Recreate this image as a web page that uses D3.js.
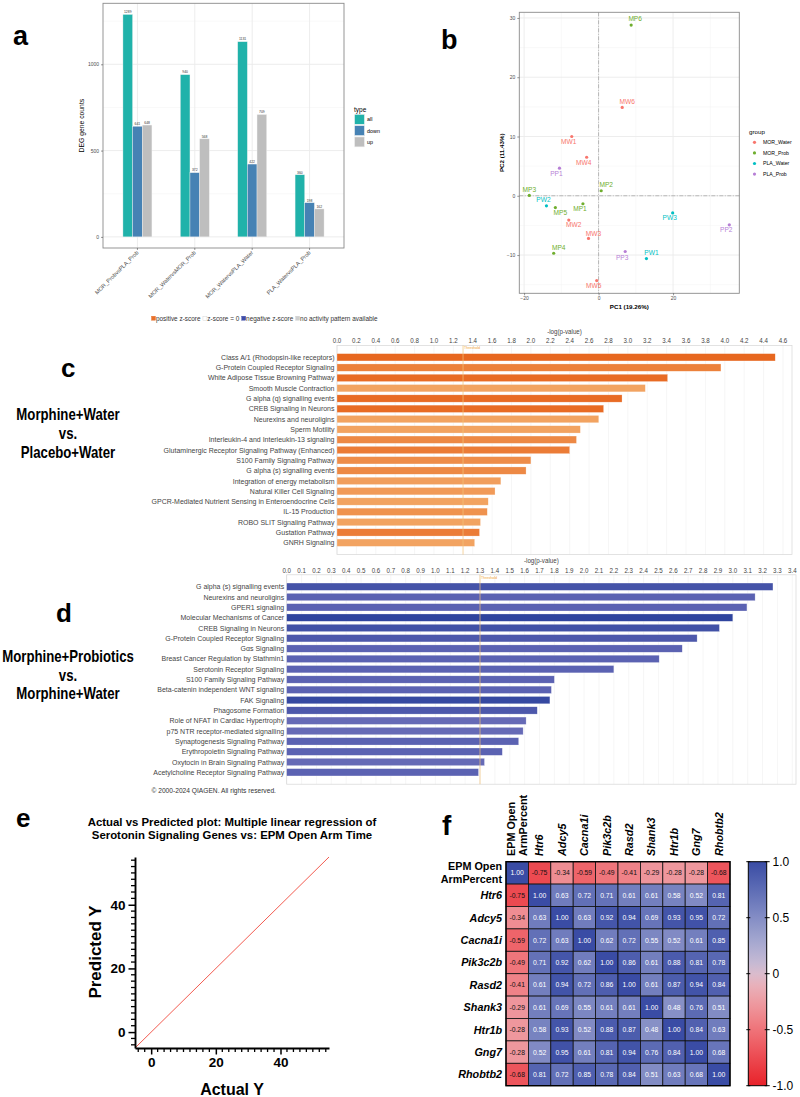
<!DOCTYPE html>
<html>
<head>
<meta charset="utf-8">
<script src="https://cdn.jsdelivr.net/npm/d3@7"></script>
<style>
  body { margin: 0; background: #fff; }
  svg { display: block; font-family: "Liberation Sans", Arial, sans-serif; }
</style>
</head>
<body>
<svg id="fig" width="800" height="1097"></svg>
<script>
// ---- data: panel a (DEG counts) ----
var degComparisons = ["MOR_ProbvsPLA_Prob", "MOR_WatervsMOR_Prob", "MOR_WatervsPLA_Water", "PLA_WatervsPLA_Prob"];
var degTypes = ["all", "down", "up"];
var degAll  = [1289, 940, 1131, 360];
var degDown = [641, 372, 422, 198];
var degUp   = [648, 568, 709, 162];
var degTicks = [0, 500, 1000];

// ---- data: panel b (PCA) ----
var pcaGroupNames = ["MOR_Water", "MOR_Prob", "PLA_Water", "PLA_Prob"];
var pcaSamples = ["MW1", "MW2", "MW3", "MW4", "MW5", "MW6", "MP1", "MP2", "MP3", "MP4", "MP5", "MP6", "PW1", "PW2", "PW3", "PP1", "PP2", "PP3"];
var pcaGroup = ["MOR_Water", "MOR_Water", "MOR_Water", "MOR_Water", "MOR_Water", "MOR_Water",
                "MOR_Prob", "MOR_Prob", "MOR_Prob", "MOR_Prob", "MOR_Prob", "MOR_Prob",
                "PLA_Water", "PLA_Water", "PLA_Water", "PLA_Prob", "PLA_Prob", "PLA_Prob"];
var pc1 = [-7.2, -8.0, -2.7, -3.2, -0.5, 6.35, -4.2, 0.7, -18.6, -12.05, -11.6, 8.75, 12.85, -14.0, 19.9, -10.5, 35.1, 7.15];
var pc2 = [10.0, -4.1, -7.2, 6.5, -14.3, 14.9, -1.35, 0.85, 0.05, -9.7, -2.0, 28.8, -10.6, -1.7, -2.9, 4.65, -4.9, -9.4];
var pc1Ticks = [-20, 0, 20];
var pc2Ticks = [-10, 0, 10, 20, 30];

// ---- data: panels c, d (IPA canonical pathways) ----
var ipaThreshold = 1.3;
var pathwaysC = ["Class A/1 (Rhodopsin-like receptors)", "G-Protein Coupled Receptor Signaling",
  "White Adipose Tissue Browning Pathway", "Smooth Muscle Contraction", "G alpha (q) signalling events",
  "CREB Signaling in Neurons", "Neurexins and neuroligins", "Sperm Motility",
  "Interleukin-4 and Interleukin-13 signaling", "Glutaminergic Receptor Signaling Pathway (Enhanced)",
  "S100 Family Signaling Pathway", "G alpha (s) signalling events", "Integration of energy metabolism",
  "Natural Killer Cell Signaling", "GPCR-Mediated Nutrient Sensing in Enteroendocrine Cells",
  "IL-15 Production", "ROBO SLIT Signaling Pathway", "Gustation Pathway", "GNRH Signaling"];
var logpC = [4.52, 3.96, 3.41, 3.18, 2.94, 2.75, 2.70, 2.51, 2.47, 2.40, 2.00, 1.95, 1.69, 1.63, 1.56, 1.55, 1.48, 1.47, 1.42];
var zScoreC = [3.0, 2.4, 2.9, 1.6, 2.9, 2.9, 1.6, 1.6, 2.2, 2.5, 2.1, 2.2, 1.7, 1.8, 1.6, 2.0, 1.6, 2.5, 1.6];

var pathwaysD = ["G alpha (s) signalling events", "Neurexins and neuroligins", "GPER1 signaling",
  "Molecular Mechanisms of Cancer", "CREB Signaling in Neurons", "G-Protein Coupled Receptor Signaling",
  "G\u03b1s Signaling", "Breast Cancer Regulation by Stathmin1", "Serotonin Receptor Signaling",
  "S100 Family Signaling Pathway", "Beta-catenin independent WNT signaling", "FAK Signaling",
  "Phagosome Formation", "Role of NFAT in Cardiac Hypertrophy", "p75 NTR receptor-mediated signalling",
  "Synaptogenesis Signaling Pathway", "Erythropoietin Signaling Pathway",
  "Oxytocin in Brain Signaling Pathway", "Acetylcholine Receptor Signaling Pathway"];
var logpD = [3.27, 3.15, 3.095, 3.00, 2.91, 2.76, 2.66, 2.505, 2.20, 1.80, 1.78, 1.77, 1.685, 1.61, 1.59, 1.56, 1.45, 1.33, 1.29];
var zScoreD = [-2.6, -2.0, -2.0, -3.2, -2.7, -2.4, -2.0, -2.0, -2.0, -2.0, -2.0, -3.0, -2.4, -1.7, -1.7, -2.0, -2.0, -1.7, -2.0];

// ---- data: panel e (actual vs predicted) ----
var regActual = [-5, 55];
var regPredicted = [-5, 55];
var regTicks = [0, 20, 40];
var regMinorTicks = [-4, -2, 2, 4, 6, 8, 10, 12, 14, 16, 18, 22, 24, 26, 28, 30, 32, 34, 36, 38,
                     42, 44, 46, 48, 50, 52, 54];

// ---- data: panel f (correlation matrix) ----
var heatVars = ["EPM Open ArmPercent", "Htr6", "Adcy5", "Cacna1i", "Pik3c2b", "Rasd2", "Shank3", "Htr1b", "Gng7", "Rhobtb2"];
var corrMatrix = [
  [ 1.00, -0.75, -0.34, -0.59, -0.49, -0.41, -0.29, -0.28, -0.28, -0.68],
  [-0.75,  1.00,  0.63,  0.72,  0.71,  0.61,  0.61,  0.58,  0.52,  0.81],
  [-0.34,  0.63,  1.00,  0.63,  0.92,  0.94,  0.69,  0.93,  0.95,  0.72],
  [-0.59,  0.72,  0.63,  1.00,  0.62,  0.72,  0.55,  0.52,  0.61,  0.85],
  [-0.49,  0.71,  0.92,  0.62,  1.00,  0.86,  0.61,  0.88,  0.81,  0.78],
  [-0.41,  0.61,  0.94,  0.72,  0.86,  1.00,  0.61,  0.87,  0.94,  0.84],
  [-0.29,  0.61,  0.69,  0.55,  0.61,  0.61,  1.00,  0.48,  0.76,  0.51],
  [-0.28,  0.58,  0.93,  0.52,  0.88,  0.87,  0.48,  1.00,  0.84,  0.63],
  [-0.28,  0.52,  0.95,  0.61,  0.81,  0.94,  0.76,  0.84,  1.00,  0.68],
  [-0.68,  0.81,  0.72,  0.85,  0.78,  0.84,  0.51,  0.63,  0.68,  1.00]
];
var colorbarTicks = [1, 0.5, 0, -0.5, -1];

var svg = d3.select("#fig");

// condensed text, like the IPA export font
function narrow(parent, x, y, txt, size, anchor, sx) {
  return parent.append("text")
    .attr("transform", "translate(" + x + "," + y + ") scale(" + (sx || 0.85) + ",1)")
    .attr("text-anchor", anchor || "start")
    .attr("font-size", size)
    .text(txt);
}

function panelLetter(x, y, s, size) {
  svg.append("text").attr("x", x).attr("y", y).attr("font-size", size || 26)
    .attr("font-weight", "bold").text(s);
}

/*** panel a : DEG bar chart ***/
(function () {
  var box = {left: 103, right: 344, top: 3.3, bottom: 248};
  var g = svg.append("g");
  var maxV = d3.max(degAll);
  var y = d3.scaleLinear().domain([-0.05 * maxV, 1.05 * maxV]).range([box.bottom, box.top]);
  var x = d3.scalePoint().domain(degComparisons).range([box.left, box.right]).padding(0.6);
  var sub = d3.scaleBand().domain(degTypes).range([-14.5, 14.5]);
  var color = d3.scaleOrdinal().domain(degTypes).range(["#20B2AA", "#4682B4", "#BEBEBE"]);

  // grid
  [250, 750, 1250].forEach(function (v) {
    g.append("line").attr("x1", box.left).attr("x2", box.right).attr("y1", y(v)).attr("y2", y(v))
      .attr("stroke", "#F3F3F3").attr("stroke-width", 0.5);
  });
  degTicks.forEach(function (v) {
    g.append("line").attr("x1", box.left).attr("x2", box.right).attr("y1", y(v)).attr("y2", y(v))
      .attr("stroke", "#EBEBEB").attr("stroke-width", 0.9);
  });
  degComparisons.forEach(function (c) {
    g.append("line").attr("x1", x(c)).attr("x2", x(c)).attr("y1", box.top).attr("y2", box.bottom)
      .attr("stroke", "#EBEBEB").attr("stroke-width", 0.9);
  });

  var rows = [];
  degComparisons.forEach(function (c, i) {
    rows.push({cmp: c, type: "all", v: degAll[i]});
    rows.push({cmp: c, type: "down", v: degDown[i]});
    rows.push({cmp: c, type: "up", v: degUp[i]});
  });
  g.selectAll("rect.bar").data(rows).enter().append("rect")
    .attr("x", function (d) { return x(d.cmp) + sub(d.type); })
    .attr("width", sub.bandwidth())
    .attr("y", function (d) { return y(d.v); })
    .attr("height", function (d) { return y(0) - y(d.v); })
    .attr("fill", function (d) { return color(d.type); })
    .attr("stroke", "#F2F2F2").attr("stroke-width", 0.4);
  g.selectAll("text.val").data(rows).enter().append("text")
    .attr("x", function (d) { return x(d.cmp) + sub(d.type) + sub.bandwidth() / 2; })
    .attr("y", function (d) { return y(d.v) - 1.2; })
    .attr("text-anchor", "middle").attr("font-size", 3.4).attr("fill", "#333")
    .text(function (d) { return d.v; });

  g.append("rect").attr("x", box.left).attr("y", box.top)
    .attr("width", box.right - box.left).attr("height", box.bottom - box.top)
    .attr("fill", "none").attr("stroke", "#8A8A8A").attr("stroke-width", 0.9);

  var ya = g.append("g").attr("transform", "translate(" + box.left + ",0)")
    .call(d3.axisLeft(y).tickValues(degTicks).tickFormat(d3.format("d")).tickSize(2).tickPadding(2));
  ya.select(".domain").remove();
  ya.selectAll("line").attr("stroke", "#333").attr("stroke-width", 0.5);
  ya.selectAll("text").attr("font-size", 5).attr("fill", "#4D4D4D").attr("font-family", null);

  degComparisons.forEach(function (c) {
    g.append("line").attr("x1", x(c)).attr("x2", x(c)).attr("y1", box.bottom).attr("y2", box.bottom + 2)
      .attr("stroke", "#333").attr("stroke-width", 0.5);
    g.append("text").attr("transform", "translate(" + (x(c) + 1.5) + "," + (box.bottom + 5) + ") rotate(-45)")
      .attr("text-anchor", "end").attr("font-size", 5.6).attr("fill", "#4D4D4D").text(c);
  });

  g.append("text").attr("transform", "translate(84," + ((box.top + box.bottom) / 2) + ") rotate(-90)")
    .attr("text-anchor", "middle").attr("font-size", 6.8).text("DEG gene counts");

  // legend
  g.append("text").attr("x", 354).attr("y", 111.5).attr("font-size", 6.5).text("type");
  degTypes.forEach(function (t, i) {
    var cy = 119.3 + i * 11.3;
    g.append("rect").attr("x", 354.5).attr("y", cy - 5).attr("width", 10).attr("height", 10)
      .attr("fill", color(t)).attr("stroke", "#F2F2F2").attr("stroke-width", 0.6);
    g.append("text").attr("x", 367).attr("y", cy + 2).attr("font-size", 5.4).text(t);
  });
  panelLetter(13, 45, "a", 27);
})();

/*** panel b : PCA ***/
(function () {
  var box = {left: 519.3, right: 739.3, top: 12.3, bottom: 293.3};
  var g = svg.append("g");
  var ex = d3.extent(pc1), ey = d3.extent(pc2);
  var px = (ex[1] - ex[0]) * 0.05, py = (ey[1] - ey[0]) * 0.05;
  var x = d3.scaleLinear().domain([ex[0] - px, ex[1] + px]).range([box.left, box.right]);
  var y = d3.scaleLinear().domain([ey[0] - py, ey[1] + py]).range([box.bottom, box.top]);
  var color = d3.scaleOrdinal().domain(pcaGroupNames).range(["#F8766D", "#6FAE2E", "#00BFC4", "#B77FD6"]);
  // label nudges (px) so text sits beside its point as in the original
  var nudge = [[-3, 5], [5, 5], [5, -5], [-3, 5], [-3, 5], [5, -6], [-3, 5], [5, -6], [0, -6],
               [5, -6], [5, 5], [4, -6], [5, -6], [-3, -6], [-3, 5], [-3, 5], [-3, 5], [-3, 6]];

  [-10, 10, 30].forEach(function (v) {
    g.append("line").attr("x1", x(v)).attr("x2", x(v)).attr("y1", box.top).attr("y2", box.bottom)
      .attr("stroke", "#F3F3F3").attr("stroke-width", 0.5);
  });
  [-15, -5, 5, 15, 25].forEach(function (v) {
    g.append("line").attr("x1", box.left).attr("x2", box.right).attr("y1", y(v)).attr("y2", y(v))
      .attr("stroke", "#F3F3F3").attr("stroke-width", 0.5);
  });
  pc1Ticks.forEach(function (v) {
    g.append("line").attr("x1", x(v)).attr("x2", x(v)).attr("y1", box.top).attr("y2", box.bottom)
      .attr("stroke", "#EBEBEB").attr("stroke-width", 0.9);
  });
  pc2Ticks.forEach(function (v) {
    g.append("line").attr("x1", box.left).attr("x2", box.right).attr("y1", y(v)).attr("y2", y(v))
      .attr("stroke", "#EBEBEB").attr("stroke-width", 0.9);
  });
  g.append("line").attr("x1", x(0)).attr("x2", x(0)).attr("y1", box.top).attr("y2", box.bottom)
    .attr("stroke", "#A8A8A8").attr("stroke-width", 0.8).attr("stroke-dasharray", "4,1.5,1,1.5");
  g.append("line").attr("x1", box.left).attr("x2", box.right).attr("y1", y(0)).attr("y2", y(0))
    .attr("stroke", "#A8A8A8").attr("stroke-width", 0.8).attr("stroke-dasharray", "4,1.5,1,1.5");

  pcaSamples.forEach(function (s, i) {
    var c = color(pcaGroup[i]);
    g.append("circle").attr("cx", x(pc1[i])).attr("cy", y(pc2[i])).attr("r", 1.6).attr("fill", c);
    g.append("text").attr("x", x(pc1[i]) + nudge[i][0]).attr("y", y(pc2[i]) + nudge[i][1])
      .attr("dy", "0.35em").attr("text-anchor", "middle").attr("font-size", 6.6)
      .attr("fill", c).text(s);
  });

  g.append("rect").attr("x", box.left).attr("y", box.top)
    .attr("width", box.right - box.left).attr("height", box.bottom - box.top)
    .attr("fill", "none").attr("stroke", "#8A8A8A").attr("stroke-width", 0.9);

  var xa = g.append("g").attr("transform", "translate(0," + box.bottom + ")")
    .call(d3.axisBottom(x).tickValues(pc1Ticks).tickSize(2).tickPadding(1.5));
  var ya = g.append("g").attr("transform", "translate(" + box.left + ",0)")
    .call(d3.axisLeft(y).tickValues(pc2Ticks).tickSize(2).tickPadding(2));
  [xa, ya].forEach(function (a) {
    a.select(".domain").remove();
    a.selectAll("line").attr("stroke", "#333").attr("stroke-width", 0.5);
    a.selectAll("text").attr("font-size", 5).attr("fill", "#4D4D4D").attr("font-family", null)
      .text(function (d) { return d < 0 ? "\u2212" + Math.abs(d) : d; });
  });

  g.append("text").attr("x", (box.left + box.right) / 2).attr("y", 308.5)
    .attr("text-anchor", "middle").attr("font-size", 6.2).attr("font-weight", "bold").text("PC1 (19.26%)");
  g.append("text").attr("transform", "translate(504," + ((box.top + box.bottom) / 2) + ") rotate(-90)")
    .attr("text-anchor", "middle").attr("font-size", 6.2).attr("font-weight", "bold").text("PC2 (11.43%)");

  g.append("text").attr("x", 749).attr("y", 133.5).attr("font-size", 6.2).text("group");
  pcaGroupNames.forEach(function (n, i) {
    var cy = 142.3 + i * 10.6;
    g.append("circle").attr("cx", 754.5).attr("cy", cy).attr("r", 1.6).attr("fill", color(n));
    g.append("text").attr("x", 763).attr("y", cy + 1.9).attr("font-size", 5.2).text(n);
  });
  panelLetter(441, 49, "b", 27);
})();

/*** z-score legend line ***/
(function () {
  var items = [
    {label: "positive z-score", fill: "#E8702A", stroke: "#E8702A"},
    {label: "z-score = 0", fill: "#FFFFFF", stroke: "#CCCCCC"},
    {label: "negative z-score", fill: "#3F4DA8", stroke: "#3F4DA8"},
    {label: "no activity pattern available", fill: "#CFCFCF", stroke: "#CFCFCF"}
  ];
  var g = svg.append("g");
  var cx = 151.5;
  items.forEach(function (it) {
    g.append("rect").attr("x", cx).attr("y", 316.2).attr("width", 4).attr("height", 4)
      .attr("fill", it.fill).attr("stroke", it.stroke).attr("stroke-width", 0.4);
    var t = narrow(g, cx + 4.4, 320.8, it.label, 7.4, "start", 0.87).attr("fill", "#333");
    cx += 4.4 + t.node().getComputedTextLength() * 0.87 + 2.4;
  });
})();

/*** panels c, d : IPA bar charts ***/
function drawIPA(cfg) {
  var g = svg.append("g");
  var x = d3.scaleLinear().domain([0, cfg.xMax]).range([cfg.left, cfg.right]);
  var y = d3.scaleBand().domain(cfg.labels).range([cfg.top, cfg.bottom]).paddingInner(0.29).paddingOuter(0.8);
  var shade = d3.scaleLinear().domain(cfg.zDomain).range(cfg.colors).clamp(true);
  var ticks = d3.range(0, cfg.tickMax + 1e-9, cfg.tickStep);

  ticks.forEach(function (t) {
    g.append("line").attr("x1", x(t)).attr("x2", x(t)).attr("y1", cfg.top).attr("y2", cfg.bottom)
      .attr("stroke", "#EDEDED").attr("stroke-width", 0.5);
  });
  g.append("rect").attr("x", cfg.left).attr("y", cfg.top)
    .attr("width", cfg.right - cfg.left).attr("height", cfg.bottom - cfg.top)
    .attr("fill", "none").attr("stroke", "#D6D6D6").attr("stroke-width", 0.7);

  g.selectAll("rect.bar").data(cfg.labels).enter().append("rect")
    .attr("x", x(0))
    .attr("y", function (d) { return y(d); })
    .attr("width", function (d, i) { return x(cfg.values[i]) - x(0); })
    .attr("height", y.bandwidth())
    .attr("fill", function (d, i) { return shade(Math.abs(cfg.z[i])); })
    .attr("stroke", "#FFFFFF").attr("stroke-opacity", 0.5).attr("stroke-width", 0.5);

  g.append("line").attr("x1", x(ipaThreshold)).attr("x2", x(ipaThreshold))
    .attr("y1", cfg.top).attr("y2", cfg.bottom)
    .attr("stroke", "#F2C27A").attr("stroke-width", 0.7);
  g.append("text").attr("x", x(ipaThreshold) + 1).attr("y", cfg.top + 4)
    .attr("font-size", 3.6).attr("fill", "#F0A030").text("Threshold");

  cfg.labels.forEach(function (l) {
    narrow(g, cfg.left - 2.5, y(l) + y.bandwidth() / 2 + 2.6, l, 7.6, "end", 0.92).attr("fill", "#444");
  });
  ticks.forEach(function (t) {
    narrow(g, x(t), cfg.tickY, t.toFixed(1), 7.2, "middle", 0.86).attr("fill", "#444");
  });
  narrow(g, (cfg.left + cfg.right) / 2, cfg.titleY, "-log(p-value)", 7.2, "middle", 0.86).attr("fill", "#444");

  // side heading
  panelLetter(cfg.letterX, cfg.letterY, cfg.letter, 26);
  cfg.heading.forEach(function (h, i) {
    narrow(svg, 68, cfg.headingY[i], h, 16.5, "middle", 0.8).attr("font-weight", "bold");
  });
}

drawIPA({
  labels: pathwaysC, values: logpC, z: zScoreC,
  zDomain: [1.5, 3.0], colors: ["#F3A766", "#E7671F"],
  left: 337, right: 792, top: 345.4, bottom: 554.6,
  xMax: 4.693, tickMax: 4.6, tickStep: 0.2, tickY: 343.3, titleY: 333.5,
  letter: "c", letterX: 61, letterY: 377,
  heading: ["Morphine+Water", "vs.", "Placebo+Water"], headingY: [420, 439, 458]
});
drawIPA({
  labels: pathwaysD, values: logpD, z: zScoreD,
  zDomain: [1.6, 3.2], colors: ["#6A6CB8", "#2F449E"],
  left: 286.7, right: 796, top: 574.8, bottom: 784.2,
  xMax: 3.425, tickMax: 3.4, tickStep: 0.1, tickY: 572.6, titleY: 562.5,
  letter: "d", letterX: 56, letterY: 622,
  heading: ["Morphine+Probiotics", "vs.", "Morphine+Water"], headingY: [662, 681, 699]
});
narrow(svg, 151.5, 792.5, "\u00a9 2000-2024 QIAGEN. All rights reserved.", 7.4, "start", 0.9).attr("fill", "#333");

/*** panel e : actual vs predicted ***/
(function () {
  var g = svg.append("g");
  var x = d3.scaleLinear().domain([-5, 55]).range([135, 329]);
  var y = d3.scaleLinear().domain([-5, 55]).range([1048, 857]);

  var line = d3.line().x(function (d) { return x(d[0]); }).y(function (d) { return y(d[1]); });
  g.append("path").datum(d3.zip(regActual, regPredicted)).attr("d", line)
    .attr("fill", "none").attr("stroke", "#F0483C").attr("stroke-width", 0.9);

  // minor ticks
  g.selectAll("line.mx").data(regMinorTicks).enter().append("line")
    .attr("x1", function (d) { return x(d); }).attr("x2", function (d) { return x(d); })
    .attr("y1", 1048).attr("y2", 1052)
    .attr("stroke", "#000").attr("stroke-width", 1.3);
  g.selectAll("line.my").data(regMinorTicks).enter().append("line")
    .attr("y1", function (d) { return y(d); }).attr("y2", function (d) { return y(d); })
    .attr("x1", 131).attr("x2", 135)
    .attr("stroke", "#000").attr("stroke-width", 1.3);

  function styleAxis(a) {
    a.select(".domain").attr("stroke", "#000").attr("stroke-width", 1.9);
    a.selectAll(".tick line").attr("stroke", "#000").attr("stroke-width", 1.5);
    a.selectAll("text").attr("font-size", 13.5).attr("font-weight", "bold")
      .attr("fill", "#000").attr("font-family", null);
  }
  styleAxis(g.append("g").attr("transform", "translate(0,1048)")
    .call(d3.axisBottom(x).tickValues(regTicks).tickSize(6.5).tickSizeOuter(0).tickPadding(3)));
  styleAxis(g.append("g").attr("transform", "translate(135,0)")
    .call(d3.axisLeft(y).tickValues(regTicks).tickSize(6.5).tickSizeOuter(0).tickPadding(3)));

  g.append("text").attr("x", 232).attr("y", 1094.5).attr("text-anchor", "middle")
    .attr("font-size", 16).attr("font-weight", "bold").text("Actual Y");
  g.append("text").attr("transform", "translate(101,952) rotate(-90)").attr("text-anchor", "middle")
    .attr("font-size", 17).attr("font-weight", "bold").text("Predicted Y");

  g.append("text").attr("x", 232).attr("y", 825.5).attr("text-anchor", "middle")
    .attr("font-size", 11.4).attr("font-weight", "bold")
    .text("Actual vs Predicted plot: Multiple linear regression of");
  g.append("text").attr("x", 232).attr("y", 838.5).attr("text-anchor", "middle")
    .attr("font-size", 11.4).attr("font-weight", "bold")
    .text("Serotonin Signaling Genes vs: EPM Open Arm Time");
  panelLetter(16, 827, "e", 26);
})();

/*** panel f : correlation heatmap ***/
(function () {
  var g = svg.append("g");
  var x = d3.scaleBand().domain(heatVars).range([506, 730]);
  var y = d3.scaleBand().domain(heatVars).range([861.7, 1085.7]);
  var heat = d3.scaleDivergingPow().exponent(0.7).domain([-1, 0, 1])
    .interpolator(d3.interpolateRgbBasis(["#E8222A", "#FFFFFF", "#3A4CA5"]));

  function lines(v) {
    var k = v.lastIndexOf(" ");
    return k < 0 ? [v] : [v.slice(0, k), v.slice(k + 1)];
  }

  heatVars.forEach(function (rv, i) {
    heatVars.forEach(function (cv, j) {
      var v = corrMatrix[i][j];
      g.append("rect").attr("x", x(cv)).attr("y", y(rv))
        .attr("width", x.bandwidth()).attr("height", y.bandwidth())
        .attr("fill", heat(v)).attr("stroke", "#111").attr("stroke-width", 0.8);
      g.append("text").attr("x", x(cv) + x.bandwidth() / 2).attr("y", y(rv) + y.bandwidth() / 2 + 2.4)
        .attr("text-anchor", "middle").attr("font-size", 6.8)
        .attr("fill", v > 0 ? "#FFFFFF" : "#111").text(v.toFixed(2));
    });
  });
  g.append("rect").attr("x", 506).attr("y", 861.7).attr("width", 224).attr("height", 224)
    .attr("fill", "none").attr("stroke", "#000").attr("stroke-width", 1.4);

  heatVars.forEach(function (v) {
    var ls = lines(v), gene = ls.length === 1;
    var cy = y(v) + y.bandwidth() / 2;
    var cx = x(v) + x.bandwidth() / 2;
    ls.forEach(function (l, k) {
      var off = (k - (ls.length - 1) / 2) * 12.5;
      g.append("text").attr("x", 502).attr("y", cy + off + 3.8)
        .attr("text-anchor", "end").attr("font-size", 10.8).attr("font-weight", "bold")
        .attr("font-style", gene ? "italic" : "normal").text(l);
      g.append("text").attr("transform", "translate(" + (cx + off + 3.8) + ",856) rotate(-90)")
        .attr("font-size", 10.8).attr("font-weight", "bold")
        .attr("font-style", gene ? "italic" : "normal").text(l);
    });
  });

  // colour bar
  var cb = {x: 748.3, w: 18.4};
  var cy = d3.scaleLinear().domain([1, -1]).range([861.7, 1085.7]);
  var grad = svg.append("defs").append("linearGradient").attr("id", "cbar")
    .attr("x1", 0).attr("y1", 0).attr("x2", 0).attr("y2", 1);
  d3.range(0, 1.0001, 0.05).forEach(function (t) {
    grad.append("stop").attr("offset", t).attr("stop-color", heat(1 - 2 * t));
  });
  g.append("rect").attr("x", cb.x).attr("y", cy(1)).attr("width", cb.w).attr("height", cy(-1) - cy(1))
    .attr("fill", "url(#cbar)").attr("stroke", "#000").attr("stroke-width", 1);
  colorbarTicks.forEach(function (t) {
    g.append("line").attr("x1", cb.x - 2).attr("x2", cb.x + 2).attr("y1", cy(t)).attr("y2", cy(t))
      .attr("stroke", "#000").attr("stroke-width", 1);
    g.append("line").attr("x1", cb.x + cb.w - 2).attr("x2", cb.x + cb.w + 3).attr("y1", cy(t)).attr("y2", cy(t))
      .attr("stroke", "#000").attr("stroke-width", 1);
    g.append("text").attr("x", 772.5).attr("y", cy(t) + 4.3).attr("font-size", 12)
      .text(t === 0 ? "0" : t.toFixed(1));
  });
  panelLetter(442, 835, "f", 28);
})();
</script>
</body>
</html>
